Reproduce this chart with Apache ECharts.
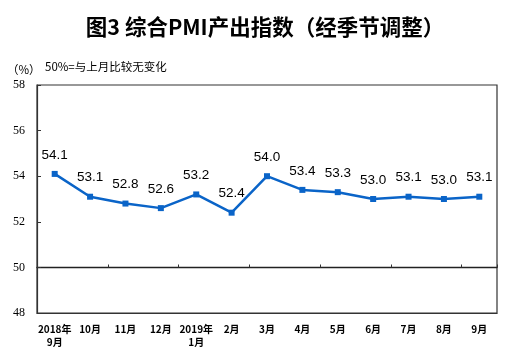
<!DOCTYPE html>
<html><head><meta charset="utf-8">
<script src="https://cdn.jsdelivr.net/npm/echarts@6/dist/echarts.min.js"></script>
<style>html,body{margin:0;padding:0;background:#fff}#c{width:505px;height:357px}</style>
</head><body><div id="c"></div>
<script>
const titleText = '图3 综合PMI产出指数（经季节调整）';
const unitText = '（%）';
const noteText = '50%=与上月比较无变化';
const categories = ['2018年\n9月','10月','11月','12月','2019年\n1月','2月','3月','4月','5月','6月','7月','8月','9月'];
const values = [54.1, 53.1, 52.8, 52.6, 53.2, 52.4, 54.0, 53.4, 53.3, 53.0, 53.1, 53.0, 53.1];
const yMin = 48, yMax = 58, yStep = 2, refValue = 50;

const chart = echarts.init(document.getElementById('c'));
chart.setOption({
  animation: false,
  backgroundColor: '#fff',
  title: [
    {text: titleText, left: 260, top: 11, textAlign: 'center',
     textStyle: {fontFamily: 'Noto Sans CJK SC', fontSize: 21.5, fontWeight: 'bold', color: '#000'}},
    {text: unitText, left: 2, top: 59,
     textStyle: {fontFamily: 'Noto Sans CJK SC', fontSize: 11.5, fontWeight: 'normal', color: '#000'}},
    {text: noteText, left: 40, top: 56,
     textStyle: {fontFamily: 'Noto Sans CJK SC', fontSize: 11.5, fontWeight: 'normal', color: '#000'}}
  ],
  grid: {left: 37, right: 8, top: 85, bottom: 44, show: true, borderColor: '#333', borderWidth: 1.2, backgroundColor: 'transparent'},
  xAxis: [
    {type: 'category', data: categories, boundaryGap: true,
     axisLine: {show: true, lineStyle: {color: '#333', width: 1.2}},
     axisTick: {show: false},
     axisLabel: {interval: 0, margin: 10, color: '#000', fontFamily: 'Noto Sans CJK SC', fontSize: 10, fontWeight: 'bold', lineHeight: 13}},
    {type: 'category', data: categories, boundaryGap: true, position: 'bottom', offset: -45.5,
     axisLine: {show: true, lineStyle: {color: '#222', width: 1.3}},
     axisTick: {show: true, inside: true, length: 3, lineStyle: {color: '#333'}},
     axisLabel: {show: false}}
  ],
  yAxis: {
    type: 'value', min: yMin, max: yMax, interval: yStep,
    axisLine: {show: true, lineStyle: {color: '#333', width: 1.2}},
    axisTick: {show: true, inside: true, length: 4, lineStyle: {color: '#333'}},
    splitLine: {show: false},
    axisLabel: {margin: 12, color: '#000', fontFamily: 'Liberation Serif', fontSize: 12}
  },
  series: [{
    type: 'line', data: values, xAxisIndex: 0,
    symbol: 'rect', symbolSize: 6,
    lineStyle: {color: '#0a64c8', width: 2.5},
    itemStyle: {color: '#0a64c8'},
    label: {show: true, position: 'top', distance: 9, color: '#000',
      fontFamily: 'Liberation Sans', fontSize: 13.5,
      formatter: p => p.value.toFixed(1)}
  }]
});
</script></body></html>
